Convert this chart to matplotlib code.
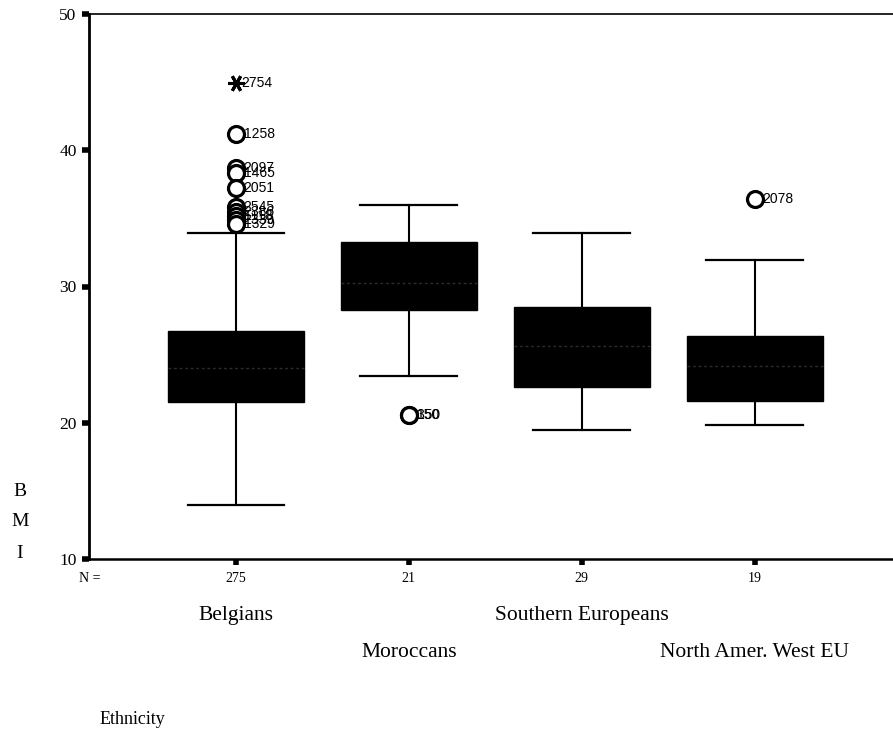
import matplotlib
matplotlib.use("Agg")
import matplotlib.pyplot as plt

# Body-mass index by ethnic group
groups = ["Belgians", "Moroccans", "Southern Europeans", "North Amer. West EU"]
counts = [275, 21, 29, 19]
whisker_low = [14.0, 23.4, 19.5, 19.85]
quart1 = [21.5, 28.25, 22.65, 21.6]
median = [24.05, 30.25, 25.6, 24.2]
quart3 = [26.7, 33.25, 28.5, 26.4]
whisker_high = [33.9, 36.0, 33.9, 31.95]

# Outliers (circles) with case numbers, per group index
outlier_group = [0, 0, 0, 0, 0, 0, 0, 0, 0, 1, 1, 3]
outlier_value = [41.2, 38.7, 38.3, 37.25, 35.8, 35.5, 35.2, 34.9, 34.6, 20.6, 20.6, 36.45]
outlier_case = ["1258", "2097", "1465", "2051", "2545", "2386", "1118", "2339", "1329",
                "150", "350", "2078"]

# Extreme values (asterisks)
extreme_group = [0]
extreme_value = [44.9]
extreme_case = ["2754"]

yticks = [10, 20, 30, 40, 50]

serif = ["Liberation Serif", "DejaVu Serif"]
sans = ["Liberation Sans", "DejaVu Sans"]

fig = plt.figure(figsize=(8.93, 7.37), dpi=100)
ax = fig.add_axes([89 / 893, 1 - 559 / 737, 1 - 89 / 893, (559 - 14) / 737])

positions = list(range(1, len(groups) + 1))
stats = []
for i in range(len(groups)):
    stats.append(dict(whislo=whisker_low[i], q1=quart1[i], med=median[i],
                      q3=quart3[i], whishi=whisker_high[i], fliers=[]))

ax.bxp(stats, positions=positions, widths=0.786, patch_artist=True,
       showfliers=False, capwidths=0.56,
       boxprops=dict(facecolor="black", edgecolor="black", linewidth=1.0),
       whiskerprops=dict(color="black", linewidth=1.5),
       capprops=dict(color="black", linewidth=1.6),
       medianprops=dict(color="#2c2c2c", linewidth=1.0, linestyle=(0, (2, 2))))

for g, v, c in zip(outlier_group, outlier_value, outlier_case):
    x = positions[g]
    ax.plot(x, v, marker="o", markersize=11.5, markerfacecolor="white",
            markeredgecolor="black", markeredgewidth=2.3, zorder=5)
    ax.annotate(c, (x, v), xytext=(5.5, 0), textcoords="offset points",
                va="center", ha="left", fontsize=10, family=sans, zorder=6)

for g, v, c in zip(extreme_group, extreme_value, extreme_case):
    x = positions[g]
    ax.plot(x, v, marker=(6, 2, 90), markersize=12, color="black",
            markeredgewidth=2.2, zorder=5)
    ax.annotate(c, (x, v), xytext=(4, 0), textcoords="offset points",
                va="center", ha="left", fontsize=10, family=sans, zorder=6)

ax.set_ylim(10, 50)
ax.set_xlim(0.15, 4.80)
ax.set_yticks(yticks)
ax.set_yticklabels([str(t) for t in yticks], family=serif, fontsize=12.5)
ax.tick_params(axis="y", direction="out", length=5, width=4, pad=4)
ax.set_xticks(positions)
ax.set_xticklabels([])
ax.tick_params(axis="x", direction="out", length=4, width=4)

ax.spines["left"].set_linewidth(2.0)
ax.spines["bottom"].set_linewidth(1.8)
ax.spines["top"].set_linewidth(1.2)
ax.spines["right"].set_visible(False)

# Counts and category labels below the axis
xt = ax.get_xaxis_transform()
for p, n in zip(positions, counts):
    ax.text(p, -0.035, str(n), transform=xt, ha="center", va="center",
            fontsize=10, family=serif)
for i, (p, name) in enumerate(zip(positions, groups)):
    y = -0.1045 if i % 2 == 0 else -0.172
    ax.text(p, y, name, transform=xt, ha="center", va="center",
            fontsize=15.5, family=serif)

fig.text(79 / 893, 1 - 578 / 737, "N =", ha="left", va="center",
         fontsize=10, family=serif)
for k, ch in enumerate("BMI"):
    fig.text(20 / 893, 1 - (491 + 31 * k) / 737, ch, ha="center", va="center",
             fontsize=14, family=serif)
fig.text(100 / 893, 1 - 719 / 737, "Ethnicity", ha="left", va="center",
         fontsize=13, family=serif)

fig.savefig("out.png", dpi=100)
